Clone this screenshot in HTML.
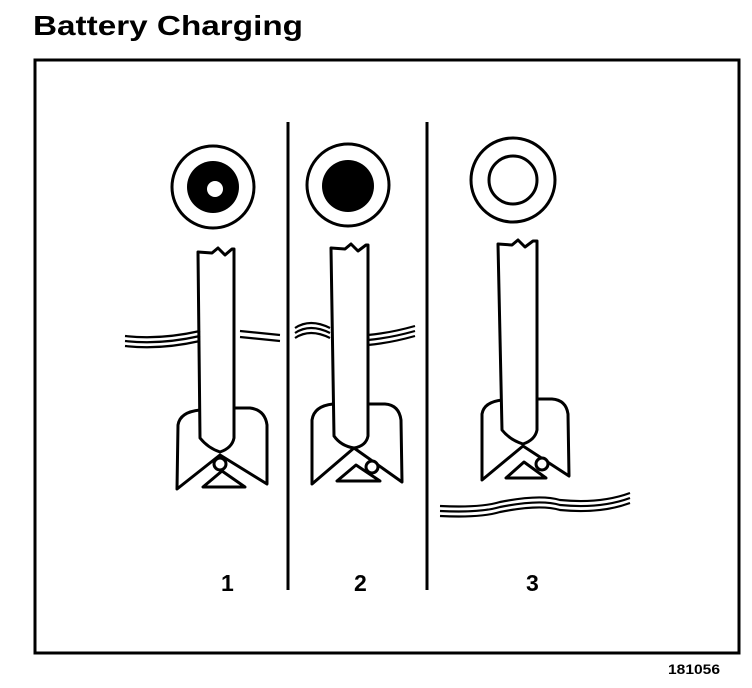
<!DOCTYPE html>
<html><head><meta charset="utf-8"><style>
html,body{margin:0;padding:0;background:#fff;}
svg{display:block;}
text{font-family:"Liberation Sans",Arial,sans-serif;font-weight:bold;fill:#000;}
</style></head><body>
<svg width="752" height="688" viewBox="0 0 752 688" xmlns="http://www.w3.org/2000/svg">
<text x="33" y="35" font-size="28" textLength="270" lengthAdjust="spacingAndGlyphs">Battery Charging</text>
<rect x="35" y="60" width="704" height="593" fill="none" stroke="#000" stroke-width="3"/>
<line x1="288" y1="122" x2="288" y2="590" stroke="#000" stroke-width="3"/>
<line x1="427" y1="122" x2="427" y2="590" stroke="#000" stroke-width="3"/>
<text x="221" y="591" font-size="23">1</text>
<text x="354" y="591" font-size="23">2</text>
<text x="526" y="591" font-size="23">3</text>
<text x="668" y="674" font-size="14" textLength="52" lengthAdjust="spacingAndGlyphs">181056</text>

<g fill="none" stroke="#000" stroke-width="3" stroke-linejoin="round">
<!-- 1 -->
<circle cx="213" cy="187" r="41"/>
<circle cx="213" cy="187" r="26" fill="#000" stroke="none"/>
<circle cx="215" cy="189" r="8" fill="#fff" stroke="none"/>
<path d="M198,252 L212,253 L218,248 L225,255 L232,249 L234,249 L234,438 Q232,448 220,452 Q208,448 200,438 Z" fill="#fff"/>
<path d="M200,410 Q180,412 178,425 L177,489 L220,455 L267,484 L267,425 Q265,410 250,408 L234,408"/>
<circle cx="220" cy="464" r="6" fill="#fff"/>
<path d="M203,487 L245,487 L222,471 Z"/>
<!-- 2 -->
<circle cx="348" cy="185" r="41"/>
<circle cx="348" cy="186" r="26" fill="#000" stroke="none"/>
<path d="M331,248 L345,249 L351,244 L358,251 L366,245 L368,245 L368,436 Q366,446 354,448 Q341,446 334,436 Z" fill="#fff"/>
<path d="M333,404 Q314,406 312,420 L312,484 L354,448 L402,482 L401,420 Q399,405 385,404 L368,404"/>
<circle cx="372" cy="467" r="6" fill="#fff"/>
<path d="M337,481 L380,481 L356,465 Z"/>
<!-- 3 -->
<circle cx="513" cy="180" r="42"/>
<circle cx="513" cy="180" r="24"/>
<path d="M498,244 L512,245 L518,240 L525,247 L533,241 L537,241 L537,430 Q535,440 523,444 Q510,440 502,430 Z" fill="#fff"/>
<path d="M502,400 Q484,402 482,414 L482,480 L523,446 L569,476 L568,414 Q566,400 552,399 L537,399"/>
<circle cx="542" cy="464" r="6" fill="#fff"/>
<path d="M506,478 L546,478 L524,462 Z"/>
</g>
<g fill="none" stroke="#000" stroke-width="2.2">
<path d="M125,336 Q160,340 200,331"/>
<path d="M125,341 Q160,345 200,336"/>
<path d="M125,346 Q160,350 200,341"/>
<path d="M240,331 Q260,333 280,335"/>
<path d="M240,337 Q260,339 280,341"/>
<path d="M295,328 Q310,318 330,328"/>
<path d="M295,333 Q310,323 330,333"/>
<path d="M295,338 Q310,328 330,338"/>
<path d="M368,335 Q390,333 415,326"/>
<path d="M368,340 Q390,338 415,331"/>
<path d="M368,345 Q390,343 415,336"/>
<path d="M440,506 Q480,508 500,502 Q540,494 560,500 Q600,504 630,493"/>
<path d="M440,511 Q480,513 500,507 Q540,499 560,505 Q600,509 630,498"/>
<path d="M440,516 Q480,518 500,512 Q540,504 560,510 Q600,514 630,503"/>
</g>
</svg>
</body></html>
